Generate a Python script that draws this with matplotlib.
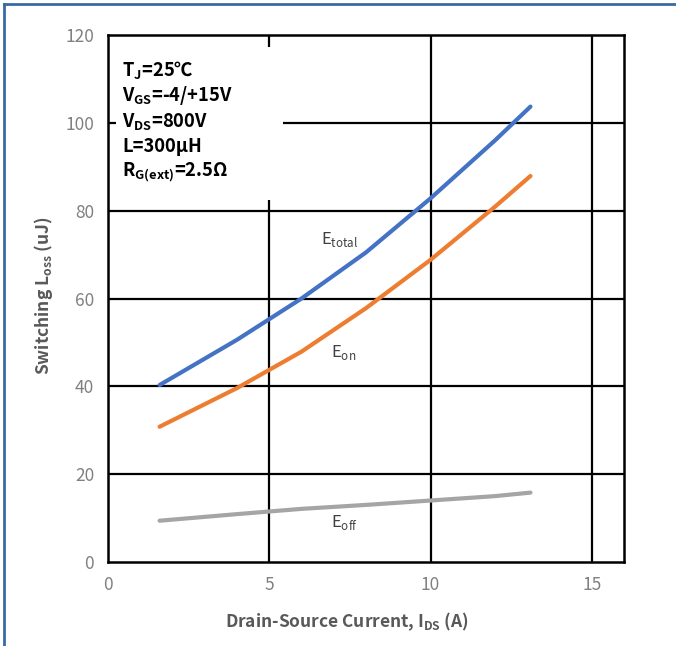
import matplotlib
matplotlib.use('Agg')
import matplotlib.pyplot as plt
from matplotlib.patches import Rectangle
from matplotlib.lines import Line2D

plt.rcParams['font.family'] = ['Noto Sans CJK SC', 'DejaVu Sans']
plt.rcParams['mathtext.fontset'] = 'custom'
plt.rcParams['mathtext.rm'] = 'Noto Sans CJK SC'
plt.rcParams['mathtext.bf'] = 'Noto Sans CJK SC:bold'

# Data
current = [1.6, 4, 6, 8, 10, 12, 13.1]
e_total = [40.3, 50.6, 60.0, 70.5, 82.8, 96.0, 103.7]
e_on = [30.8, 39.6, 47.9, 57.8, 68.8, 80.9, 87.9]
e_off = [9.4, 10.9, 12.1, 13.0, 14.0, 15.0, 15.8]

x_ticks = [0, 5, 10, 15]
y_ticks = [0, 20, 40, 60, 80, 100, 120]

fig = plt.figure(figsize=(6.76, 6.46), dpi=100)
fig.patch.set_facecolor('white')
ax = fig.add_axes([108 / 676, 1 - 562 / 646, 516 / 676, 527 / 646])

# grid lines, black like the original
for xv in x_ticks[1:]:
    ax.axvline(xv, color='black', linewidth=1.6, zorder=1)
for yv in y_ticks[1:-1]:
    ax.axhline(yv, color='black', linewidth=1.6, zorder=1)

ax.plot(current, e_off, color='#A5A5A5', linewidth=3, solid_capstyle='round', zorder=3)
ax.plot(current, e_on, color='#ED7D31', linewidth=3, solid_capstyle='round', zorder=3)
ax.plot(current, e_total, color='#4472C4', linewidth=3, solid_capstyle='round', zorder=3)

ax.set_xlim(0, 16)
ax.set_ylim(0, 120)
ax.set_xticks(x_ticks)
ax.set_yticks(y_ticks)
ax.tick_params(length=0, labelsize=12.5, colors='#808080', pad=10)
for lab in ax.get_xticklabels() + ax.get_yticklabels():
    lab.set_fontweight('light')
for s in ax.spines.values():
    s.set_color('black')
    s.set_linewidth(1.8)

ax.set_xlabel(r'Drain-Source Current, I$_{\mathbf{DS}}$ (A)', fontsize=12.5,
              fontweight='bold', color='#595959')
ax.set_ylabel(r'Switching L$_{\mathbf{oss}}$ (uJ)', fontsize=12.5,
              fontweight='bold', color='#595959')
ax.xaxis.set_label_coords(0.463, -0.092)
ax.yaxis.set_label_coords(-0.103, 0.505)

# white box behind the test conditions
ax.add_patch(Rectangle((0.016, 0.687), 0.323, 0.29, transform=ax.transAxes,
                       facecolor='white', edgecolor='none', zorder=2))
cond = [r'T$_\mathbf{J}$=25℃',
        r'V$_\mathbf{GS}$=-4/+15V',
        r'V$_\mathbf{DS}$=800V',
        r'L=300µH',
        r'R$_\mathbf{G(ext)}$=2.5Ω']
for i, t in enumerate(cond):
    ax.text(0.027, 0.933 - i * 0.0485, t, transform=ax.transAxes, fontsize=13.2,
            fontweight='bold', color='black', va='center', zorder=4)

ax.text(6.6, 72.5, r'E$_{\mathrm{total}}$', fontsize=12, color='#404040', zorder=4)
ax.text(6.9, 46.6, r'E$_{\mathrm{on}}$', fontsize=12, color='#404040', zorder=4)
ax.text(6.9, 7.9, r'E$_{\mathrm{off}}$', fontsize=12, color='#404040', zorder=4)

# outer frame lines of the picture (top and left)
fig.add_artist(Line2D([4 / 676, 1], [1 - 4 / 646, 1 - 4 / 646], color='#3A6AA5',
                      linewidth=2, transform=fig.transFigure))
fig.add_artist(Line2D([4 / 676, 4 / 676], [0, 1 - 4 / 646], color='#3A6AA5',
                      linewidth=2, transform=fig.transFigure))

fig.savefig('out.png', dpi=100, facecolor='white')
